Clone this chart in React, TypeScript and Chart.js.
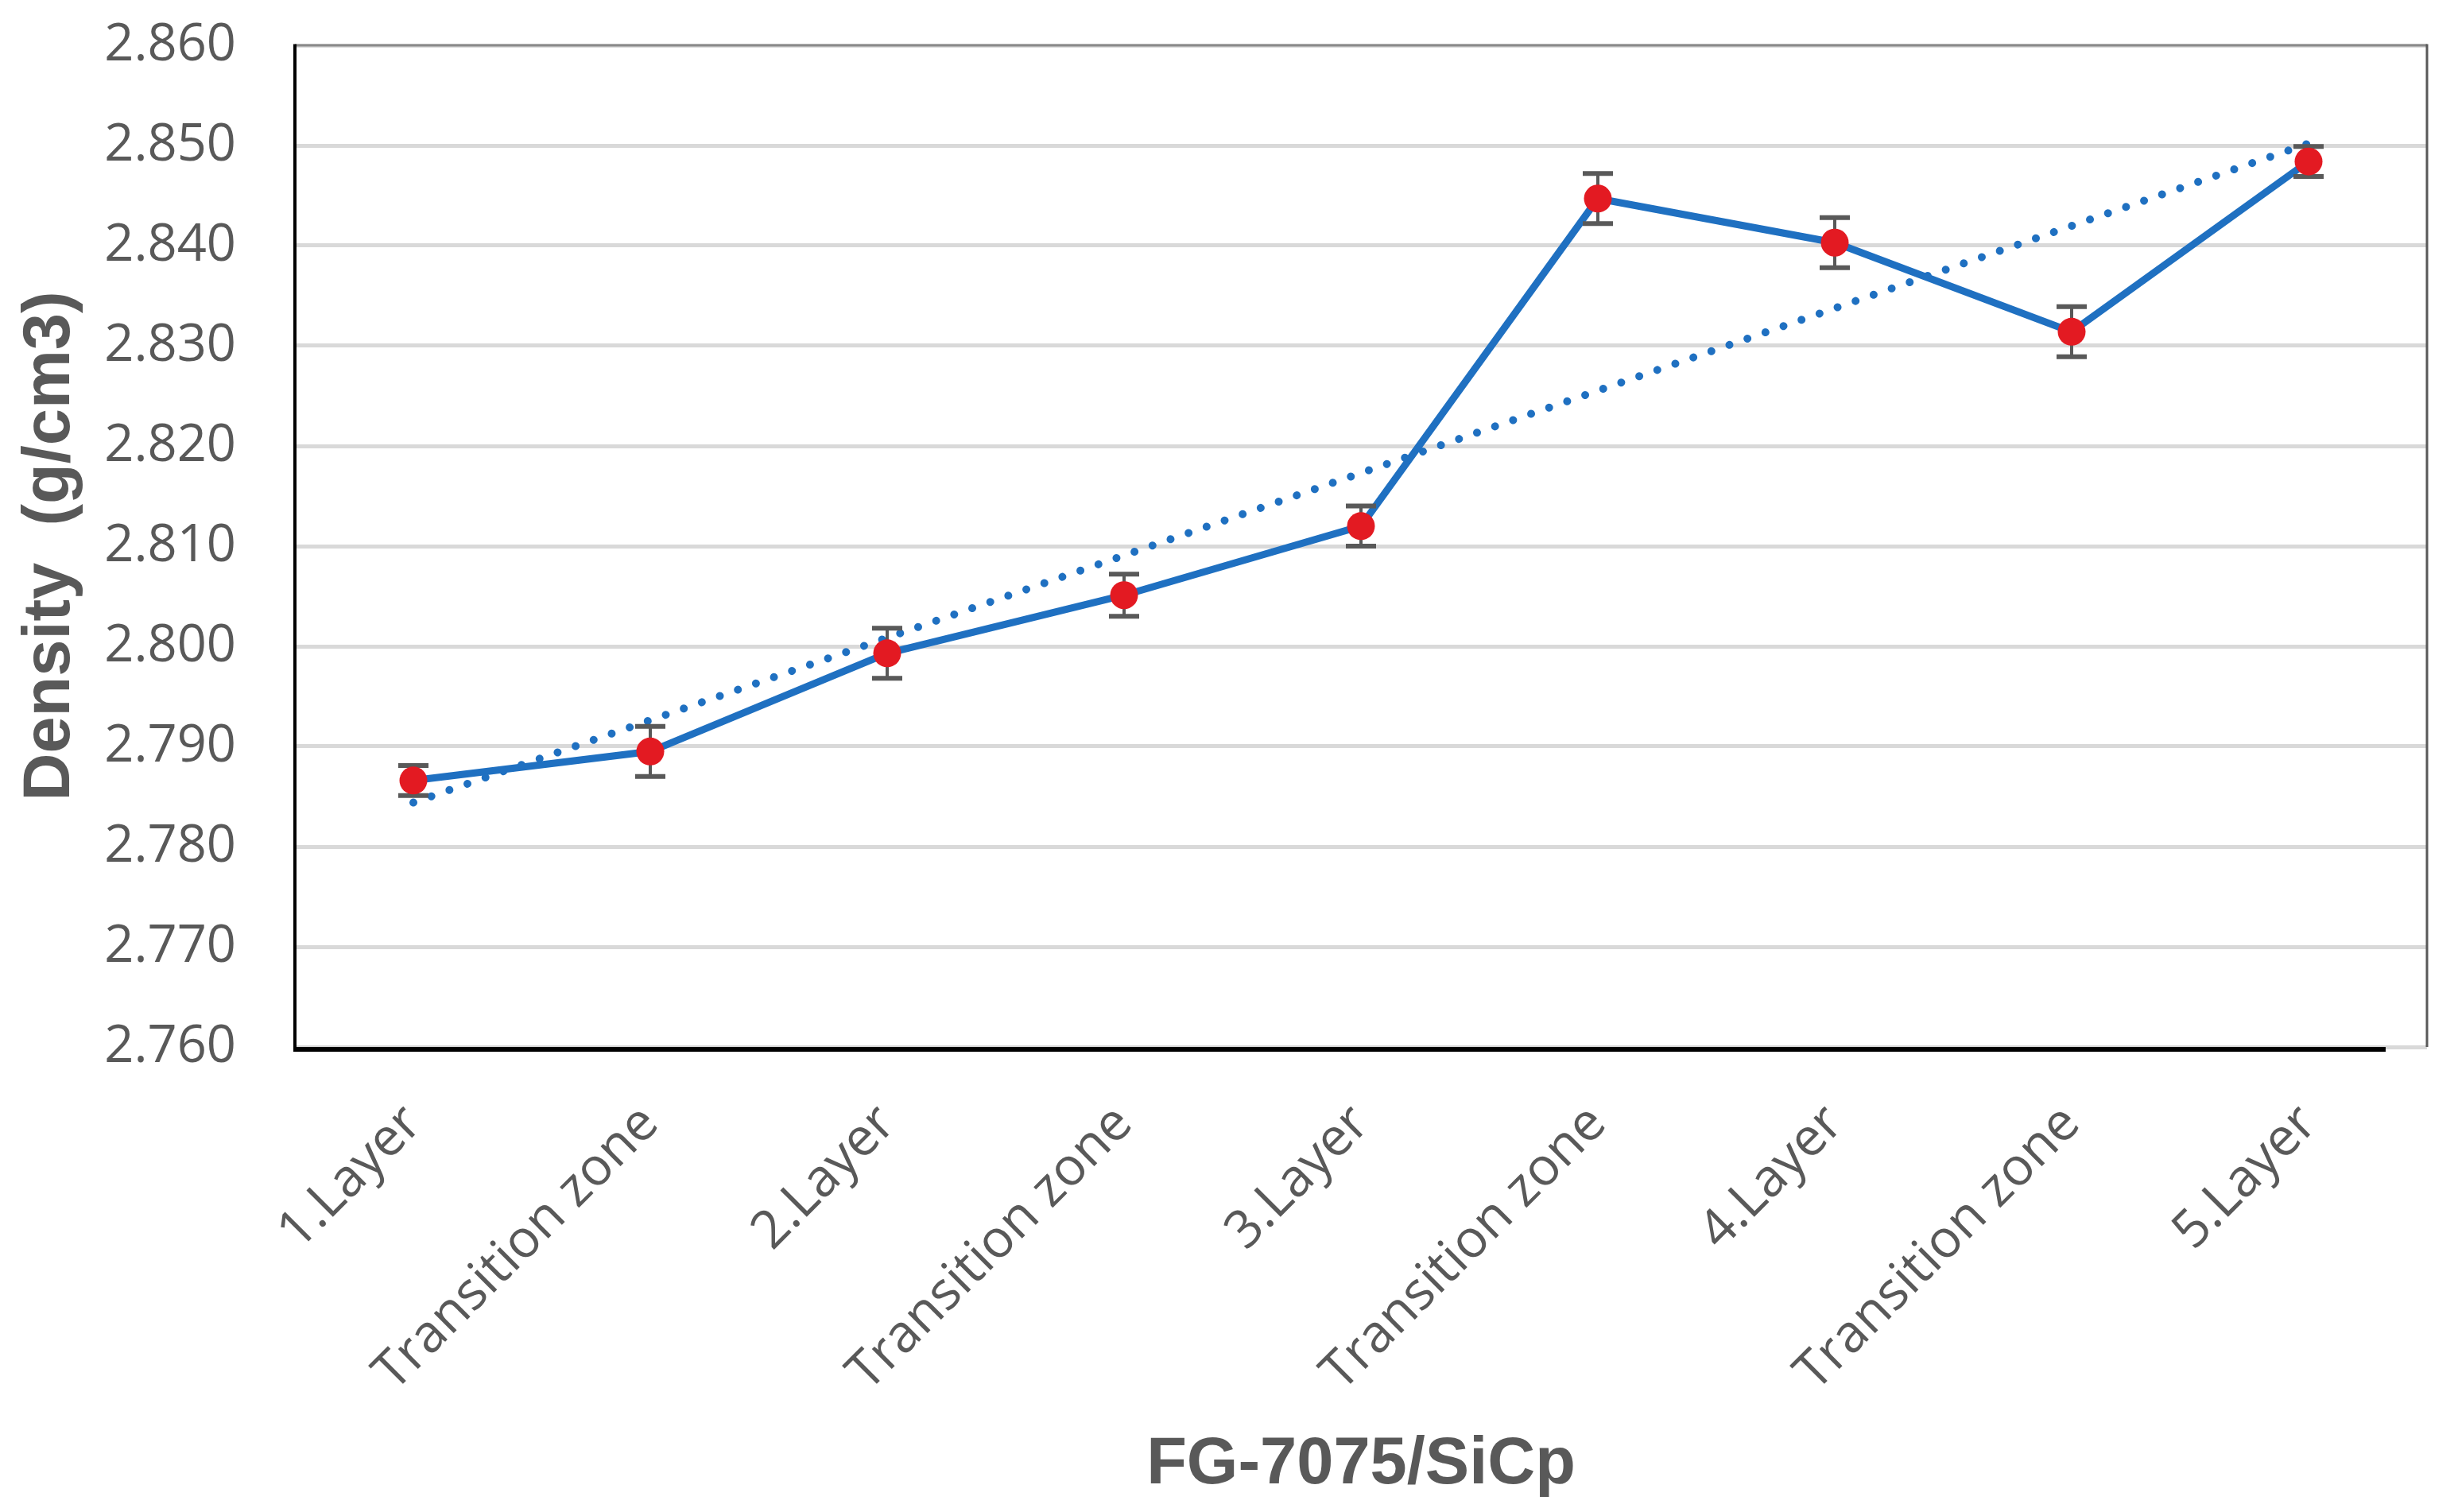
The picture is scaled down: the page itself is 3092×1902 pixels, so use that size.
import React, { useEffect, useRef } from "react";
import { Chart, registerables } from "chart.js";

Chart.register(...registerables);

const categories = [
  "1.Layer",
  "Transition zone",
  "2.Layer",
  "Transition zone",
  "3.Layer",
  "Transition zone",
  "4.Layer",
  "Transition zone",
  "5.Layer",
];
const density = [2.7866, 2.7895, 2.7993, 2.8051, 2.812, 2.8447, 2.8403, 2.8314, 2.8484];
const errors = [0.0015, 0.0025, 0.0025, 0.0021, 0.002, 0.0025, 0.0025, 0.0025, 0.0015];
const trendline = [2.7844, null, null, null, null, null, null, null, 2.8502];
const yMin = 2.76;
const yMax = 2.86;
const yStep = 0.01;
const xTitle = "FG-7075/SiCp";
const yTitle = "Density  (g/cm3)";

const BLUE = "#1f70c1";
const RED = "#e31a22";
const GRAY = "#595959";
const TICK_FONT = "'Open Sans', sans-serif";
const TITLE_FONT = "'Liberation Sans', Arial, sans-serif";

const zeroPad = (s: any) => {
  s.paddingTop = 0;
  s.paddingBottom = 0;
  s.paddingLeft = 0;
  s.paddingRight = 0;
};

const decor = {
  id: "decor",
  beforeDatasetsDraw(chart: any) {
    const { ctx, chartArea } = chart;
    const { left, right, top, bottom } = chartArea;
    ctx.save();
    ctx.lineCap = "butt";
    ctx.strokeStyle = "#8a8a8a";
    ctx.lineWidth = 3;
    ctx.beginPath();
    ctx.moveTo(left, top);
    ctx.lineTo(right, top);
    ctx.stroke();
    ctx.strokeStyle = GRAY;
    ctx.lineWidth = 3;
    ctx.beginPath();
    ctx.moveTo(right, top - 1.5);
    ctx.lineTo(right, bottom);
    ctx.stroke();
    ctx.strokeStyle = "#000";
    ctx.lineWidth = 4;
    ctx.beginPath();
    ctx.moveTo(left, top - 1.5);
    ctx.lineTo(left, bottom + 5);
    ctx.stroke();
    ctx.lineWidth = 6;
    ctx.beginPath();
    ctx.moveTo(left - 2, bottom + 3);
    ctx.lineTo(right - 52, bottom + 3);
    ctx.stroke();
    ctx.restore();
  },
  beforeDatasetDraw(chart: any, args: any) {
    if (args.index !== 2) return;
    const { ctx } = chart;
    const xs = chart.scales.x;
    const ys = chart.scales.y;
    ctx.save();
    ctx.strokeStyle = GRAY;
    ctx.lineCap = "butt";
    density.forEach((v, i) => {
      const px = xs.getPixelForValue(i);
      const t = ys.getPixelForValue(v + errors[i]);
      const b = ys.getPixelForValue(v - errors[i]);
      ctx.lineWidth = 4;
      ctx.beginPath();
      ctx.moveTo(px, t);
      ctx.lineTo(px, b);
      ctx.stroke();
      ctx.lineWidth = 6;
      ctx.beginPath();
      ctx.moveTo(px - 19, t);
      ctx.lineTo(px + 19, t);
      ctx.moveTo(px - 19, b);
      ctx.lineTo(px + 19, b);
      ctx.stroke();
    });
    ctx.restore();
  },
  afterDraw(chart: any) {
    const { ctx, chartArea } = chart;
    ctx.save();
    ctx.fillStyle = GRAY;
    ctx.font = `bold 83px ${TITLE_FONT}`;
    ctx.textAlign = "center";
    ctx.textBaseline = "alphabetic";
    ctx.fillText(xTitle, (chartArea.left + chartArea.right) / 2, 1866);
    ctx.translate(87, (chartArea.top + chartArea.bottom) / 2);
    ctx.rotate(-Math.PI / 2);
    ctx.fillText(yTitle, 0, 0);
    ctx.restore();
  },
};

export default function App() {
  const ref = useRef<HTMLCanvasElement | null>(null);

  useEffect(() => {
    document.body.style.margin = "0";
    const canvas = ref.current;
    if (!canvas) return;
    const chart = new Chart(canvas, {
      type: "line",
      data: {
        labels: categories,
        datasets: [
          {
            label: "Density",
            data: density,
            borderColor: BLUE,
            borderWidth: 9,
            pointRadius: 0,
            tension: 0,
            order: 3,
          },
          {
            label: "Linear trend",
            data: trendline as any,
            borderColor: BLUE,
            borderWidth: 10,
            borderDash: [0.01, 24],
            borderCapStyle: "round",
            spanGaps: true,
            pointRadius: 0,
            order: 2,
          },
          {
            label: "Points",
            data: density,
            showLine: false,
            pointRadius: 17.5,
            pointBackgroundColor: RED,
            pointBorderWidth: 0,
            pointBorderColor: RED,
            order: 1,
          },
        ],
      },
      options: {
        responsive: false,
        animation: false,
        devicePixelRatio: 1,
        layout: { padding: { left: 0, top: 57, right: 39, bottom: 0 } },
        plugins: { legend: { display: false }, tooltip: { enabled: false } },
        scales: {
          x: {
            type: "category",
            offset: true,
            grid: { display: false, drawTicks: false },
            border: { display: false },
            ticks: {
              minRotation: 45,
              maxRotation: 45,
              autoSkip: false,
              padding: 58,
              color: GRAY,
              font: { family: TICK_FONT, size: 66 },
            },
            afterFit: (s: any) => {
              s.height = 585;
              zeroPad(s);
            },
          },
          y: {
            min: yMin,
            max: yMax,
            grid: { color: "#d9d9d9", lineWidth: 5, drawTicks: false },
            border: { display: false },
            ticks: {
              stepSize: yStep,
              padding: 74,
              color: GRAY,
              font: { family: TICK_FONT, size: 65 },
              callback: (v: any) => Number(v).toFixed(3),
            },
            afterFit: (s: any) => {
              s.width = 371;
              zeroPad(s);
            },
          },
        },
      },
      plugins: [decor],
    });
    return () => chart.destroy();
  }, []);

  return <canvas ref={ref} width={3092} height={1902} style={{ display: "block" }} />;
}
